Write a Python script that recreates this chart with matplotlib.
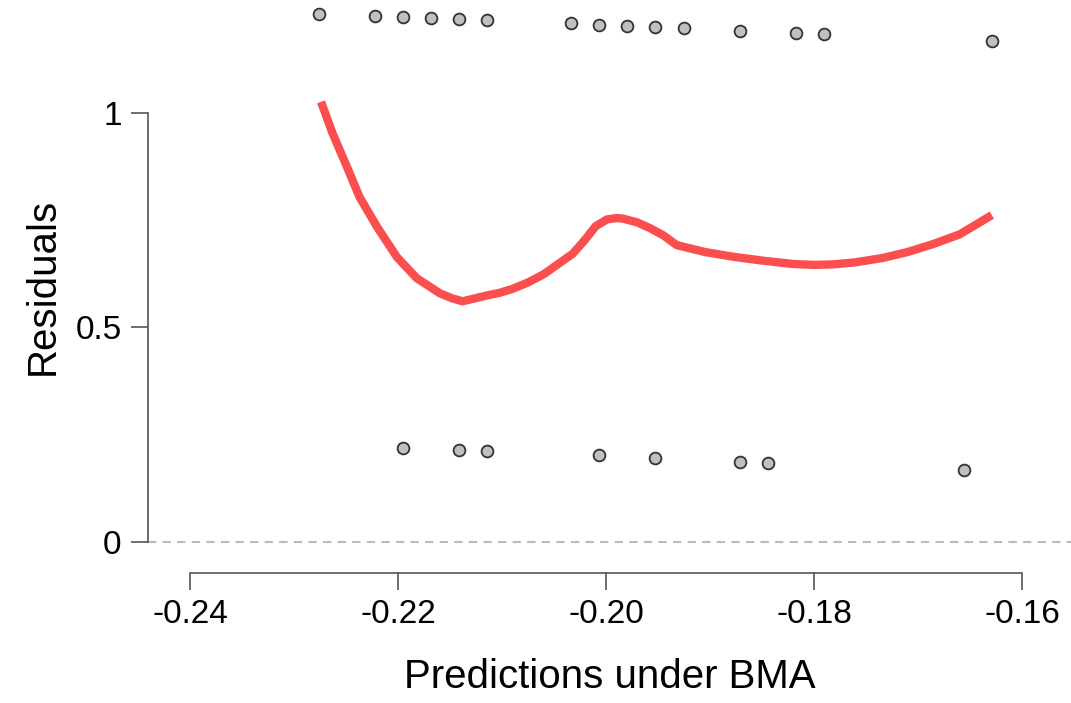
import matplotlib
matplotlib.use("Agg")
import matplotlib.pyplot as plt

# observed residuals (outcome = 1, upper band)
pred_hi = [-0.2276, -0.2222, -0.2195, -0.2168, -0.2141, -0.2114, -0.2034, -0.2007,
           -0.1980, -0.1953, -0.1925, -0.1871, -0.1817, -0.1790, -0.1629]
resid_hi = [1.231, 1.226, 1.224, 1.221, 1.219, 1.217, 1.210, 1.205,
            1.203, 1.200, 1.198, 1.191, 1.186, 1.184, 1.168]

# observed residuals (outcome = 0, lower band)
pred_lo = [-0.2195, -0.2141, -0.2114, -0.2007, -0.1953, -0.1871, -0.1844, -0.1656]
resid_lo = [0.219, 0.214, 0.212, 0.203, 0.196, 0.186, 0.184, 0.168]

# smoother through residuals
smooth_x = [-0.2274, -0.2263, -0.2249, -0.2237, -0.2220, -0.2201, -0.2182, -0.2160,
            -0.2148, -0.2138, -0.2126, -0.2114, -0.2102, -0.2090, -0.2075, -0.2060,
            -0.2046, -0.2032, -0.2020, -0.2010, -0.1999, -0.1990, -0.1984, -0.1970,
            -0.1958, -0.1945, -0.1932, -0.1905, -0.1878, -0.1850, -0.1820, -0.1800,
            -0.1782, -0.1760, -0.1734, -0.1710, -0.1686, -0.1660, -0.1629]
smooth_y = [1.026, 0.953, 0.874, 0.804, 0.734, 0.664, 0.615, 0.580,
            0.568, 0.561, 0.568, 0.575, 0.581, 0.590, 0.605, 0.624,
            0.648, 0.672, 0.705, 0.736, 0.752, 0.755, 0.754, 0.745,
            0.732, 0.715, 0.692, 0.676, 0.665, 0.656, 0.648, 0.646,
            0.647, 0.652, 0.662, 0.676, 0.694, 0.717, 0.762]

xticks = [-0.24, -0.22, -0.20, -0.18, -0.16]
yticks = [0, 0.5, 1]

plt.rcParams["font.family"] = ["Liberation Sans", "DejaVu Sans"]

fig = plt.figure(figsize=(10.71, 7.03), dpi=100)
ax = fig.add_axes([148 / 1071, (703 - 573) / 703, 923 / 1071, 573 / 703])

ax.axhline(0, color="#bbbbbb", linestyle=(0, (4, 3)), linewidth=1.5, zorder=1)
ax.plot(smooth_x, smooth_y, color="#fb4e4e", linewidth=6,
        solid_capstyle="butt", solid_joinstyle="round", zorder=2)
ax.scatter(pred_hi, resid_hi, s=72, facecolor="#c0c0c0", edgecolor="#333333",
           linewidth=1.3, zorder=3, clip_on=False)
ax.scatter(pred_lo, resid_lo, s=72, facecolor="#c0c0c0", edgecolor="#333333",
           linewidth=1.3, zorder=3, clip_on=False)

ax.set_xlim(-0.24404, -0.15529)
ax.set_ylim(-0.0723, 1.2634)

ax.spines["top"].set_visible(False)
ax.spines["right"].set_visible(False)
ax.spines["left"].set_bounds(0, 1)
ax.spines["bottom"].set_bounds(-0.24, -0.16)
for side in ("left", "bottom"):
    ax.spines[side].set_color("#555555")
    ax.spines[side].set_linewidth(1.2)

ax.set_xticks(xticks)
ax.set_xticklabels([f"{t:.2f}" for t in xticks])
ax.set_yticks(yticks)
ax.set_yticklabels(["0", "0.5", "1"])
ax.tick_params(axis="both", labelsize=24, length=12, width=1.2, color="#555555",
               pad=7)

ax.set_xlabel("Predictions under BMA", fontsize=29, labelpad=20)
ax.set_ylabel("Residuals", fontsize=29, labelpad=10)

fig.savefig("out.png", dpi=100)
